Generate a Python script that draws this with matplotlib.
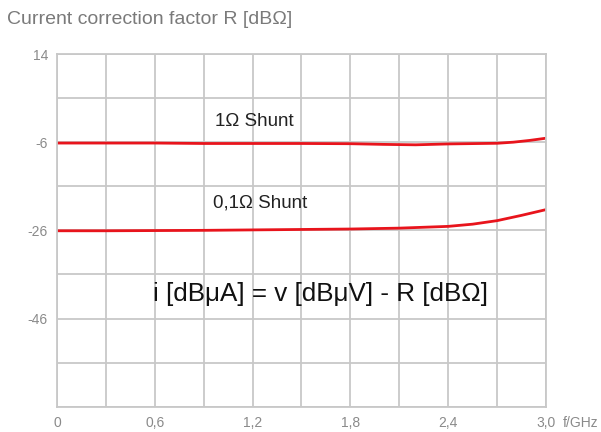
import matplotlib
matplotlib.use("Agg")
import matplotlib.pyplot as plt

plt.rcParams["font.family"] = ["Liberation Sans", "DejaVu Sans"]

# frequency in GHz, correction factor in dBOhm
freq_1ohm = [0.0, 0.3, 0.6, 0.9, 1.2, 1.5, 1.8, 2.0, 2.2, 2.4, 2.6, 2.7, 2.8, 2.9, 3.0]
r_1ohm = [-6.2, -6.2, -6.2, -6.3, -6.3, -6.3, -6.35, -6.5, -6.6, -6.4, -6.3, -6.25, -6.0, -5.6, -5.1]

freq_01ohm = [0.0, 0.3, 0.6, 0.9, 1.2, 1.5, 1.8, 2.1, 2.4, 2.55, 2.7, 2.85, 3.0]
r_01ohm = [-26.1, -26.1, -26.05, -26.0, -25.9, -25.8, -25.7, -25.5, -25.1, -24.6, -23.8, -22.6, -21.3]

x_grid = [i * 0.3 for i in range(11)]
y_grid = [14 - 10 * i for i in range(9)]
y_labels = {14: "14", -6: "-6", -26: "-26", -46: "-46"}
x_labels = {0.0: "0", 0.6: "0,6", 1.2: "1,2", 1.8: "1,8", 2.4: "2,4", 3.0: "3,0"}

grid_col = "#c8c8c8"
label_col = "#8a8a8a"
red = "#e8141c"

fig = plt.figure(figsize=(6.01, 4.32), dpi=100)
ax = fig.add_axes([0.0948, 0.0586, 0.8137, 0.8164])

ax.plot(freq_1ohm, r_1ohm, color=red, lw=2.0)
ax.plot(freq_01ohm, r_01ohm, color=red, lw=2.0)

ax.set_xlim(0, 3.0)
ax.set_ylim(-66, 14)

ax.set_xticks(x_grid)
ax.set_xticklabels([x_labels.get(round(v, 1), "") for v in x_grid])
ax.set_yticks(y_grid)
ax.set_yticklabels([y_labels.get(v, "") for v in y_grid])
ax.tick_params(length=0, labelsize=10, labelcolor=label_col)
ax.tick_params(axis="x", pad=6.5)
ax.tick_params(axis="y", pad=6.5)
ax.grid(True, color=grid_col, lw=1.3)
ax.set_axisbelow(True)
for s in ax.spines.values():
    s.set_color(grid_col)
    s.set_linewidth(1.3)

ax.text(0.97, -1.2, "1\u03a9 Shunt", fontsize=13.5, va="center", ha="left", color="#222222")
ax.text(0.96, -19.8, "0,1\u03a9 Shunt", fontsize=13.5, va="center", ha="left", color="#222222")
ax.text(0.59, -40.4, "i [dB\u03bcA] = v [dB\u03bcV] - R [dB\u03a9]", fontsize=18.7,
        va="center", ha="left", color="#111111")

ax.text(1.035, -0.046, "f/GHz", transform=ax.transAxes, fontsize=10,
        color=label_col, ha="left", va="center")
fig.text(7 / 601, 1 - 19 / 432, "Current correction factor R [dB\u03a9]",
         fontsize=14, color="#7a7a7a", ha="left", va="center")

fig.savefig("out.png", dpi=100)
